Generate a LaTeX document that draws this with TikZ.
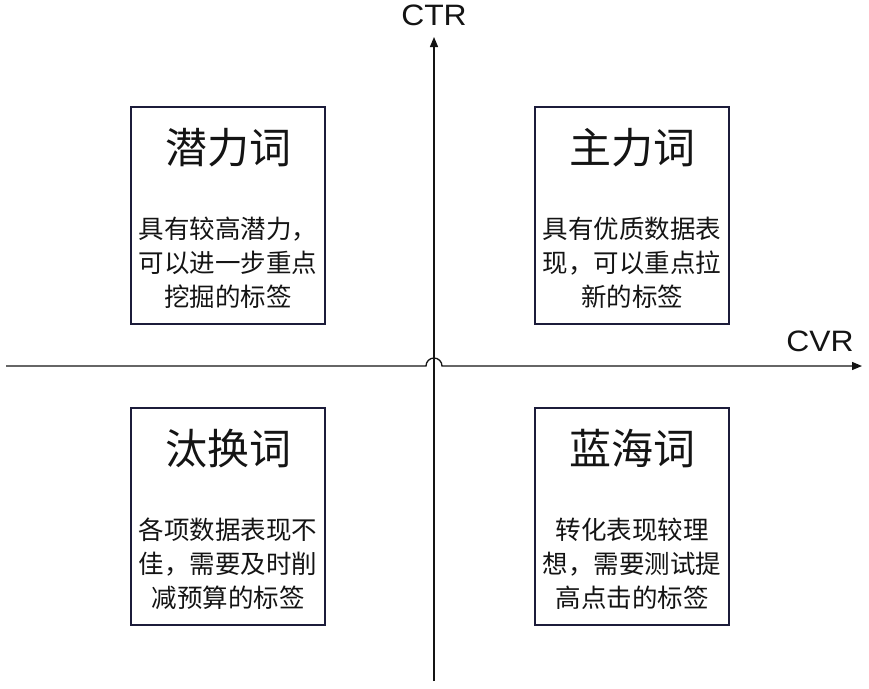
\documentclass[tikz,border=0pt]{standalone}
\usepackage{fontspec}
\setmainfont{Liberation Sans}
\newfontfamily\cjk{Noto Sans CJK SC}
\usetikzlibrary{arrows.meta}
\definecolor{boxcol}{RGB}{28,28,58}
\definecolor{txtcol}{RGB}{20,20,20}
\begin{document}
\begin{tikzpicture}[x=1pt,y=-1pt,
  axis/.style={line width=1.3pt,draw=txtcol},
  tip/.style={-{Triangle[length=10pt,width=8pt]}},
  quad/.style={draw=boxcol,line width=1.1pt,minimum width=194pt,minimum height=217pt,inner sep=0pt},
  ttl/.style={font=\cjk\fontsize{42}{46}\selectfont,text=txtcol,inner sep=0pt},
  desc/.style={font=\cjk\fontsize{25.5}{34}\selectfont,text=txtcol,align=center,inner sep=0pt},
  axlabel/.style={font=\fontsize{29.5}{32}\selectfont,text=txtcol,inner sep=0pt,xscale=1.08}]
\useasboundingbox (0,0) rectangle (869,688);
\fill[white] (0,0) rectangle (869,688);
% axes
\coordinate (xs) at (6,366);
\coordinate (h1) at (426,366);
\coordinate (xe) at (862,366);
\coordinate (ys) at (434,681);
\coordinate (ye) at (434,37);
\draw[axis,tip] (ys) -- (ye);
\draw[axis,tip] (xs) -- (h1) arc[start angle=180,end angle=360,radius=8] -- (xe);
\node[axlabel] (ctr) at (434,15.5) {CTR};
\node[axlabel] (cvr) at (820,341.5) {CVR};
% boxes
\node[quad] (b1) at (228,215.5) {};
\node[quad] (b2) at (632,215.5) {};
\node[quad] (b3) at (228,516.5) {};
\node[quad] (b4) at (632,516.5) {};
% titles
\node[ttl] (t1) at (228,148) {潜力词};
\node[ttl] (t2) at (632,148) {主力词};
\node[ttl] (t3) at (228,449) {汰换词};
\node[ttl] (t4) at (632,449) {蓝海词};
% descriptions
\node[desc] (d1) at (228,263) {具有较高潜力，\\可以进一步重点\\挖掘的标签};
\node[desc] (d2) at (632,263) {具有优质数据表\\现，可以重点拉\\新的标签};
\node[desc] (d3) at (228,564) {各项数据表现不\\佳，需要及时削\\减预算的标签};
\node[desc] (d4) at (632,564) {转化表现较理\\想，需要测试提\\高点击的标签};
\end{tikzpicture}
\end{document}
